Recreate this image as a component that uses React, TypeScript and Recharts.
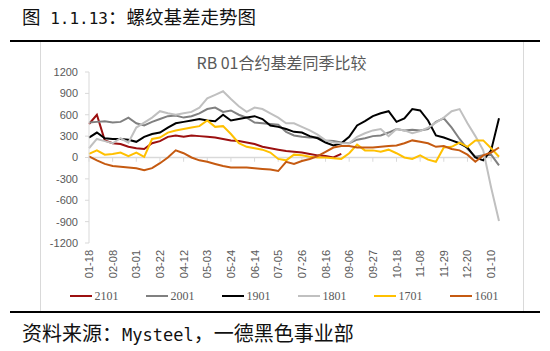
import React from "react";
import { LineChart, Line, XAxis, YAxis, ReferenceLine, Legend } from "recharts";

// weekly points, one label every 3 weeks on the axis
const dates = [
  "01-18", "01-25", "02-01", "02-08", "02-15", "02-22", "03-01", "03-08", "03-15",
  "03-22", "03-29", "04-05", "04-12", "04-19", "04-26", "05-03", "05-10", "05-17",
  "05-24", "05-31", "06-07", "06-14", "06-21", "06-28", "07-05", "07-12", "07-19",
  "07-26", "08-02", "08-09", "08-16", "08-23", "08-30", "09-06", "09-13", "09-20",
  "09-27", "10-04", "10-11", "10-18", "10-25", "11-01", "11-08", "11-15", "11-22",
  "11-29", "12-06", "12-13", "12-20", "12-27", "01-03", "01-10", "01-17",
];

const s2101 = [
  470, 600, 240, 200, 190, 150, 130, 120, 200, 230, 290, 310, 290, 310, 300, 290,
  280, 260, 240, 230, 210, 190, 150, 130, 110, 90, 80, 70, 50, 30, 20, 0, 50,
];

const s2001 = [
  490, 500, 510, 490, 500, 560, 480, 450, 500, 540, 580, 590, 560, 580, 620, 680,
  700, 640, 660, 600, 560, 490, 480, 470, 460, 360, 310, 290, 280, 280, 240, 230,
  210, 200, 250, 270, 300, 310, 350, 400, 380, 390, 380, 400, 500, 550, 420, 260,
  120, 10, 30, 40, -110,
];

const s1901 = [
  280, 350, 270, 260, 260, 250, 220, 290, 330, 350, 420, 480, 500, 520, 540, 520,
  510, 600, 520, 540, 560, 580, 540, 450, 430, 400, 360, 350, 300, 270, 210, 170,
  200, 290, 450, 510, 580, 620, 650, 500, 550, 680, 660, 520, 310, 280, 240, 200,
  140, 0, -40, 100, 550,
];

const s1801 = [
  130, 260, 230, 200, 270, 210, 420, 490, 560, 650, 620, 600, 620, 640, 700, 830,
  880, 930, 820, 720, 640, 700, 680, 620, 560, 480, 480, 430, 380, 320, 240, 210,
  200, 200, 290, 340, 380, 400, 300, 400, 380, 340, 370, 420, 490, 560, 650, 680,
  480, 300, 100, -420, -890,
];

const s1701 = [
  50, 100, 40, 50, 70, 20, 70, 10, 260, 280, 350, 380, 400, 420, 440, 520, 430,
  440, 330, 200, 150, 130, 110, 70, -20, -40, 40, 30, 10, 0, 0, -10, -20, 60, 180,
  100, 100, 80, 110, 60, 0, -20, 30, -30, -60, 140, 150, 210, 150, 240, 240, 130, 10,
];

const s1601 = [
  15, -40, -90, -120, -130, -140, -150, -180, -150, -80, 0, 100, 60, 0, -40, -60,
  -90, -120, -140, -140, -140, -150, -160, -170, -190, -60, -90, -50, -20, 20, 80,
  140, 160, 160, 140, 140, 140, 150, 160, 170, 200, 240, 220, 200, 150, 160, 120,
  100, 40, -60, 30, 70, 140,
];

const yTicks = [-1200, -900, -600, -300, 0, 300, 600, 900, 1200];

const seriesList = [
  { key: "2101", values: s2101, color: "#9C1010" },
  { key: "2001", values: s2001, color: "#808080" },
  { key: "1901", values: s1901, color: "#000000" },
  { key: "1801", values: s1801, color: "#C0C0C0" },
  { key: "1701", values: s1701, color: "#FFC000" },
  { key: "1601", values: s1601, color: "#C55A11" },
];

const data = dates.map((d, i) => {
  const row: Record<string, string | number | null> = { date: d };
  seriesList.forEach((s) => {
    row[s.key] = s.values[i] ?? null;
  });
  return row;
});

// dates that carry a label (every 3rd week) get a small tick on the zero line
const labelDates = dates.filter((_, i) => i % 3 === 0);

const axisFont = "'Liberation Sans', Arial, sans-serif";
const cjkFont = "'Noto Sans CJK SC', sans-serif";
const monoFont = "'DejaVu Sans Mono', monospace";

function DateTick({ x, y, payload }: any) {
  return (
    <g transform={`translate(${x},${y})`}>
      <text
        x={0}
        y={0}
        dy={4}
        transform="rotate(-90)"
        textAnchor="end"
        fill="#595959"
        fontSize={11}
        fontFamily={axisFont}
      >
        {payload.value}
      </text>
    </g>
  );
}

// legend keeps the series order of the source chart
function LegendContent() {
  return (
    <div
      style={{
        display: "flex",
        justifyContent: "center",
        height: 24,
        fontFamily: "'Liberation Serif', serif",
        fontSize: 12,
        color: "#595959",
      }}
    >
      {seriesList.map((s) => (
        <div
          key={s.key}
          style={{ display: "flex", alignItems: "center", height: 16, margin: "0 13.5px" }}
        >
          <svg width={22} height={4}>
            <line x1={0} y1={2} x2={22} y2={2} stroke={s.color} strokeWidth={2} />
          </svg>
          <span style={{ marginLeft: 3 }}>{s.key}</span>
        </div>
      ))}
    </div>
  );
}

export default function App() {
  return (
    <div
      style={{
        position: "absolute",
        left: 0,
        top: 0,
        width: 550,
        height: 351,
        background: "#fff",
        overflow: "hidden",
      }}
    >
      <div
        style={{
          position: "absolute",
          left: 22,
          top: 4,
          fontSize: 18.5,
          lineHeight: "24px",
          fontFamily: cjkFont,
          color: "#111",
          whiteSpace: "nowrap",
        }}
      >
        图<span style={{ fontFamily: monoFont, fontSize: 16 }}> 1.1.13</span>：螺纹基差走势图
      </div>

      {/* chart frame */}
      <div
        style={{
          position: "absolute",
          left: 40,
          top: 41,
          width: 482,
          height: 271,
          borderLeft: "1px solid #D9D9D9",
          borderRight: "1px solid #D9D9D9",
        }}
      />
      <div style={{ position: "absolute", left: 10, top: 40, width: 530, height: 2, background: "#000" }} />
      <div style={{ position: "absolute", left: 10, top: 311, width: 530, height: 2, background: "#000" }} />

      <div
        style={{
          position: "absolute",
          left: 40,
          width: 483,
          top: 52,
          textAlign: "center",
          fontSize: 16,
          lineHeight: "20px",
          fontFamily: cjkFont,
          color: "#595959",
        }}
      >
        RB 01合约基差同季比较
      </div>

      <div style={{ position: "absolute", left: 40, top: 42 }}>
        <LineChart
          width={483}
          height={270}
          data={data}
          margin={{ top: 30, right: 24, left: 0, bottom: 0 }}
        >
          <XAxis
            dataKey="date"
            interval={2}
            axisLine={false}
            tickLine={false}
            tickSize={5}
            tickMargin={2}
            height={45}
            tick={<DateTick />}
          />
          <YAxis
            domain={[-1200, 1200]}
            ticks={yTicks}
            width={49}
            axisLine={{ stroke: "#D9D9D9" }}
            tickLine={{ stroke: "#D9D9D9" }}
            tickSize={4}
            tickMargin={7}
            tick={{ fill: "#595959", fontSize: 11, fontFamily: axisFont }}
          />
          <ReferenceLine y={0} stroke="#D9D9D9" strokeWidth={1.5} />
          {labelDates.map((d) => (
            <ReferenceLine
              key={`t-${d}`}
              segment={[
                { x: d, y: 0 },
                { x: d, y: -60 },
              ]}
              stroke="#D9D9D9"
            />
          ))}
          {seriesList.map((s) => (
            <Line
              key={s.key}
              dataKey={s.key}
              name={s.key}
              stroke={s.color}
              strokeWidth={2}
              dot={false}
              type="linear"
              isAnimationActive={false}
            />
          ))}
          <Legend
            verticalAlign="bottom"
            content={<LegendContent />}
            wrapperStyle={{ left: 0, width: 488 }}
          />
        </LineChart>
      </div>

      <div
        style={{
          position: "absolute",
          left: 22,
          top: 321,
          fontSize: 20,
          lineHeight: "24px",
          fontFamily: cjkFont,
          color: "#111",
          whiteSpace: "nowrap",
        }}
      >
        资料来源：<span style={{ fontFamily: monoFont, fontSize: 17 }}>Mysteel</span>，一德黑色事业部
      </div>
    </div>
  );
}
